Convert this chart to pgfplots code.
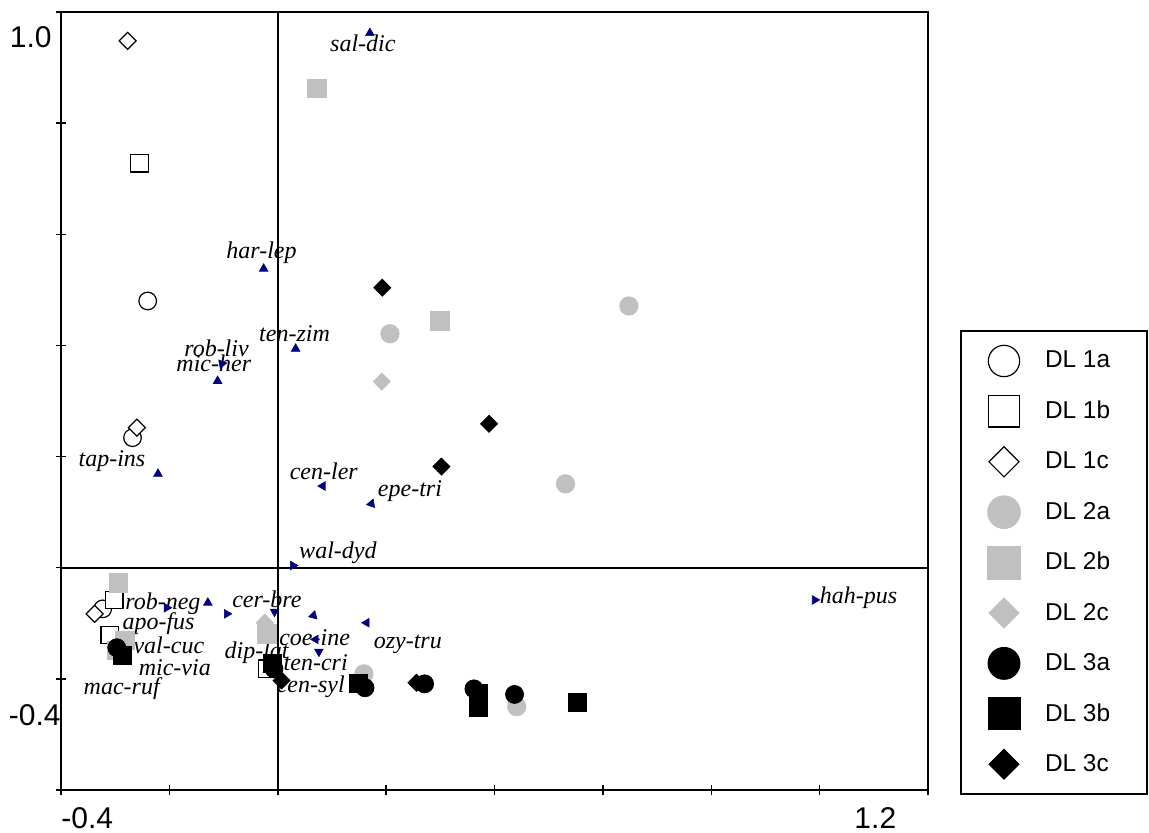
\documentclass[border=0pt]{standalone}
\usepackage{fontspec}
\setmainfont{Liberation Sans}
\newfontfamily\timesfont{Liberation Serif}
\usepackage{pgfplots}
\pgfplotsset{compat=1.18}
\definecolor{navy}{RGB}{0,0,128}
\definecolor{lgray}{RGB}{192,192,192}
\newcommand{\labfont}{\timesfont\itshape\fontsize{12}{14}\selectfont}
\newcommand{\tickfont}{\fontsize{15}{18}\selectfont}
\begin{document}
\begin{tikzpicture}
\useasboundingbox (-30.5pt,-21pt) rectangle (544pt,395pt);
\begin{axis}[
  at={(0pt,0pt)}, anchor=south west,
  scale only axis, width=433.5pt, height=389pt,
  xmin=-0.4, xmax=1.2, ymin=-0.4, ymax=1.0,
  xtick={-0.4,-0.2,0,0.2,0.4,0.6,0.8,1.0,1.2},
  ytick={-0.4,-0.2,0,0.2,0.4,0.6,0.8,1.0},
  xticklabels={}, yticklabels={},
  tick pos=left, tick align=center, major tick length=5pt,
  axis line style={line width=0.75pt},
  tick style={line width=0.75pt, black},
  clip=false,
  legend image code/.code={%
    \path[draw=none, fill=none] (-9pt,-12.6pt) rectangle (9pt,12.6pt);
    \draw[#1, every mark/.append style={scale=1.78}] plot coordinates {(0pt,0pt)};},
  legend style={at={(1.0369,0.5913)}, anchor=north west, draw=black, line width=1pt,
    inner xsep=12.5pt, inner ysep=2.4pt, row sep=0pt,
    font=\fontsize{12.2}{14}\selectfont,
    /tikz/every odd column/.append style={column sep=9.5pt}},
  legend cell align=left,
]
% zero lines
\draw[line width=1pt] (axis cs:0,-0.4) -- (axis cs:0,1.0);
\draw[line width=1pt] (axis cs:-0.4,0) -- (axis cs:1.2,0);

\addplot[only marks, mark=*, mark size=4.4pt, draw=black, fill=white, line width=0.6pt]
  table {
x y
-0.240 0.480
-0.268 0.234
-0.323 -0.074
};
\addlegendentry{DL 1a\hspace*{4pt}}
\addplot[only marks, mark=square*, mark size=4.4pt, draw=black, fill=white, line width=0.6pt]
  table {
x y
-0.255 0.728
-0.302 -0.058
-0.310 -0.121
-0.020 -0.182
};
\addlegendentry{DL 1b\hspace*{4pt}}
\addplot[only marks, mark=square*, mark size=3pt, mark options={rotate=45}, draw=black, fill=white, line width=0.6pt]
  table {
x y
-0.277 0.948
-0.260 0.252
-0.338 -0.083
};
\addlegendentry{DL 1c\hspace*{4pt}}
\addplot[only marks, mark=*, mark size=4.6pt, draw=lgray, fill=lgray, line width=0.4pt]
  table {
x y
0.648 0.471
0.207 0.421
0.531 0.151
0.159 -0.191
0.441 -0.250
};
\addlegendentry{DL 2a\hspace*{4pt}}
\addplot[only marks, mark=square*, mark size=4.6pt, draw=lgray, fill=lgray, line width=0.4pt]
  table {
x y
0.072 0.863
0.299 0.444
-0.294 -0.027
-0.020 -0.119
-0.297 -0.149
-0.282 -0.131
};
\addlegendentry{DL 2b\hspace*{4pt}}
\addplot[only marks, mark=square*, mark size=3pt, mark options={rotate=45}, draw=lgray, fill=lgray, line width=0.4pt]
  table {
x y
0.192 0.335
-0.024 -0.099
};
\addlegendentry{DL 2c\hspace*{4pt}}
\addplot[only marks, mark=*, mark size=4.5pt, draw=black, fill=black, line width=0.4pt]
  table {
x y
-0.297 -0.144
0.161 -0.216
0.271 -0.209
0.362 -0.218
0.437 -0.228
-0.007 -0.182
};
\addlegendentry{DL 3a\hspace*{4pt}}
\addplot[only marks, mark=square*, mark size=4.5pt, draw=black, fill=black, line width=0.4pt]
  table {
x y
-0.286 -0.158
-0.009 -0.173
0.148 -0.208
0.371 -0.227
0.371 -0.252
0.553 -0.243
};
\addlegendentry{DL 3b\hspace*{4pt}}
\addplot[only marks, mark=square*, mark size=3pt, mark options={rotate=45}, draw=black, fill=black, line width=0.4pt]
  table {
x y
0.193 0.504
0.390 0.259
0.302 0.182
0.007 -0.203
0.256 -0.207
};
\addlegendentry{DL 3c\hspace*{4pt}}

% species
\addplot[forget plot, scatter, only marks, mark=triangle*, mark size=2.5pt, draw=navy, fill=navy, line width=0.3pt,
  visualization depends on={\thisrow{rot} \as \myrot},
  scatter/@pre marker code/.code={\scope[rotate=\myrot]},
  scatter/@post marker code/.code={\endscope}]
  table {
x y rot
0.170 0.962 0
-0.026 0.538 0
0.033 0.394 0
-0.103 0.367 160
-0.111 0.336 0
-0.221 0.169 -120
0.083 0.147 -30
0.173 0.115 100
0.028 0.004 -90
0.991 -0.058 -90
-0.205 -0.072 -90
-0.129 -0.063 0
-0.094 -0.083 30
-0.006 -0.079 180
0.066 -0.086 -135
0.164 -0.099 -30
0.070 -0.129 90
0.076 -0.151 180
};

% species labels
\begin{scope}[every node/.style={font=\labfont, inner sep=0pt}]
\node at (axis cs:0.157,0.944) {sal-dic};
\node at (axis cs:-0.030,0.567) {har-lep};
\node at (axis cs:0.031,0.421) {ten-zim};
\node at (axis cs:-0.113,0.394) {rob-liv};
\node at (axis cs:-0.118,0.367) {mic-her};
\node at (axis cs:-0.306,0.191) {tap-ins};
\node at (axis cs:0.085,0.174) {cen-ler};
\node at (axis cs:0.244,0.137) {epe-tri};
\node at (axis cs:0.111,0.027) {wal-dyd};
\node at (axis cs:1.072,-0.054) {hah-pus};
\node at (axis cs:-0.212,-0.065) {rob-neg};
\node at (axis cs:-0.020,-0.056) {cer-bre};
\node at (axis cs:0.240,-0.137) {ozy-tru};
\node at (axis cs:0.068,-0.126) {coe-ine};
\node at (axis cs:0.070,-0.171) {ten-cri};
\node at (axis cs:0.061,-0.214) {cen-syl};
\node at (axis cs:-0.039,-0.153) {dip-lat};
\node at (axis cs:-0.220,-0.101) {apo-fus};
\node at (axis cs:-0.201,-0.140) {val-cuc};
\node at (axis cs:-0.190,-0.180) {mic-via};
\node at (axis cs:-0.288,-0.218) {mac-ruf};
\end{scope}

% axis number labels
\begin{scope}[every node/.style={font=\tickfont, inner sep=0pt}]
\node[anchor=east] at (axis cs:-0.4,0.955) [xshift=-4.5pt] {1.0};
\node[anchor=east] at (axis cs:-0.4,-0.266) {-0.4};
\node[anchor=west] at (axis cs:-0.4,-0.4) [yshift=-14pt] {-0.4};
\node[anchor=east] at (axis cs:1.142,-0.4) [yshift=-14pt] {1.2};
\end{scope}
\end{axis}
\end{tikzpicture}
\end{document}
